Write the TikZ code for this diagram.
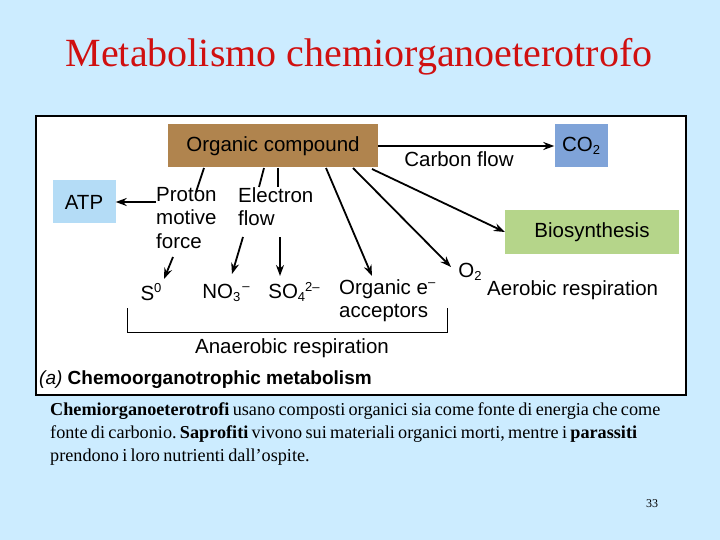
\documentclass[tikz,border=0pt]{standalone}
\usepackage{fontspec}
\setmainfont{Liberation Serif}
\newfontfamily\dsans{Liberation Sans}
\usetikzlibrary{arrows.meta}
\definecolor{bg}{HTML}{CCECFF}
\definecolor{brownbox}{HTML}{B0844E}
\definecolor{cobox}{HTML}{7FA3D8}
\definecolor{atpbox}{HTML}{B4DCF6}
\definecolor{biobox}{HTML}{B5D58A}
\definecolor{titlered}{HTML}{D01010}
\newcommand{\sbs}[1]{\raisebox{-0.3ex}{\fontsize{13}{14}\selectfont #1}}
\newcommand{\sps}[1]{\raisebox{0.7ex}{\fontsize{13}{14}\selectfont #1}}
\begin{document}
\begin{tikzpicture}[x=1pt,y=-1pt,
  lab/.style={font=\dsans\fontsize{20.5}{23.5}\selectfont,inner sep=0pt},
  box/.style={lab,minimum height=43pt},
  arr/.style={line width=1.8pt,-{Stealth[length=11pt,width=8pt]}},
  ln/.style={line width=1.8pt}]
\useasboundingbox (0,0) rectangle (720,540);
\fill[bg] (0,0) rectangle (720,540);
\node[text=titlered,font=\fontsize{40}{46}\selectfont] (title) at (359,57) {Metabolismo chemiorganoeterotrofo};
\draw[fill=white,line width=2.5pt] (36,116) rectangle (686,395);
\node[box,fill=brownbox,minimum width=210pt] (oc) at (273,146) {Organic compound};
\node[box,fill=cobox,minimum width=53pt] (co2) at (581,146) {CO\sbs{2}};
\node[box,fill=atpbox,minimum width=63pt] (atp) at (84,202) {ATP};
\node[box,fill=biobox,minimum width=174pt] (bio) at (592,232) {Biosynthesis};
\node[lab] (cf) at (459,159) {Carbon flow};
\node[lab,align=left,anchor=north west] (pmf) at (156,187) {Proton\\motive\\force};
\node[lab,align=left,anchor=north west] (ef) at (238,187) {Electron\\flow};
\node[lab] (s0) at (151,292) {S\sps{0}};
\node[lab] (no3) at (226,293) {NO\sbs{3}\sps{\,–}};
\node[lab] (so4) at (294,292) {SO\sbs{4}\sps{2–}};
\node[lab,align=left,anchor=north west] (oe) at (339,279) {Organic e\sps{–}\\acceptors};
\node[lab] (o2) at (470,272) {O\sbs{2}};
\node[lab,anchor=west] (aer) at (487,290) {Aerobic respiration};
\node[lab] (ana) at (292,348) {Anaerobic respiration};
\node[lab,anchor=west,font=\dsans\fontsize{19}{22}\selectfont] (cap) at (39,380) {\textit{(a)} \textbf{Chemoorganotrophic metabolism}};
\coordinate (b1) at (127,308); \coordinate (b2) at (127,332);
\coordinate (b3) at (447,332); \coordinate (b4) at (447,308);
\draw[line width=1pt] (b1) -- (b2) -- (b3) -- (b4);
\draw[arr] (oc.east) -- (co2.west);
\draw[arr] (pmf.west |- atp) -- (atp.east);
\draw[ln] (204,168) -- (196,192);
\draw[arr] (173,257) -- (164,279);
\draw[ln] (264,168) -- (259,187);
\draw[ln] (278,168) -- (278,187);
\draw[arr] (243,237) -- (232,274);
\draw[arr] (280,237) -- (280,276);
\draw[arr] (326,168) -- (372,276);
\draw[arr] (353,168) -- (451,267);
\draw[arr] (372,169) -- (bio.west);
\node[anchor=north west,align=left,text width=640pt,inner sep=0pt] (txt) at (50,402)
{\fontsize{18.2}{23}\selectfont\frenchspacing\hyphenpenalty=10000\raggedright\textbf{Chemiorganoeterotrofi} usano composti organici sia come fonte di energia che come\\fonte di carbonio. \textbf{Saprofiti} vivono sui materiali organici morti, mentre i \textbf{parassiti}\\prendono i loro nutrienti dall’ospite.\par};
\node[font=\fontsize{12}{14}\selectfont] (pg) at (652,504) {33};
\end{tikzpicture}
\end{document}
